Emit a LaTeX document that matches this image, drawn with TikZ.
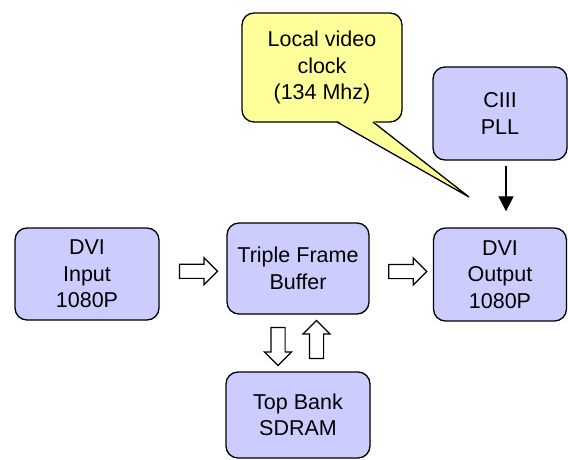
\documentclass[tikz,border=0pt]{standalone}
\usepackage{fontspec}
\setmainfont{Liberation Sans}
\usetikzlibrary{shapes.arrows,arrows.meta,calc}
\definecolor{boxfill}{HTML}{CCCCFF}
\definecolor{notefill}{HTML}{FFFF99}
\tikzset{
  block/.style={draw=black, line width=1.3pt, fill=boxfill, rounded corners=12pt,
    align=center, inner sep=0pt, font=\fontsize{21.5}{26.5}\selectfont},
  note/.style={block, fill=notefill},
  hollow/.style={single arrow, draw=black, line width=1.2pt, fill=white,
    inner xsep=0pt, inner ysep=6.5pt, single arrow head extend=6.5pt,
    minimum height=38pt, single arrow tip angle=90},
}
\begin{document}
\begin{tikzpicture}[x=1pt, y=-1pt]
  \useasboundingbox (0,0) rectangle (568,460);

  % processing blocks
  \node[block, minimum width=144pt, minimum height=92pt] (in)    at (87,274)    {DVI\\Input\\1080P};
  \node[block, minimum width=142pt, minimum height=91pt] (tfb)   at (298,268.5) {Triple Frame\\Buffer};
  \node[block, minimum width=133pt, minimum height=93pt] (out)   at (500,274.5) {DVI\\Output\\1080P};
  \node[block, minimum width=134pt, minimum height=93pt] (pll)   at (500,113.5) {CIII\\PLL};
  \node[block, minimum width=144pt, minimum height=86pt] (sdram) at (298,415)   {Top Bank\\SDRAM};

  % data-flow arrows
  \node[hollow] (a1) at ($(in.east)!0.5!(tfb.west)+(2,0)$) {};
  \node[hollow] (a2) at ($(tfb.east)!0.5!(out.west)+(3,0)$) {};
  \node[hollow, rotate=-90] (a3) at ($(tfb.south)!0.5!(sdram.north)+(-20,0)$) {};
  \node[hollow, rotate=90]  (a4) at ($(tfb.south)!0.5!(sdram.north)+(18.5,0)$) {};

  % clock feed
  \draw[line width=1.2pt, -{Triangle[width=15pt,length=15pt]}, shorten <=5pt, shorten >=16pt]
    ([xshift=6pt]pll.south) -- ([xshift=6pt]out.north);

  % callout
  \node[note, minimum width=160pt, minimum height=109pt] (clk) at (322,67.5)
    {Local video\\clock\\(134 Mhz)};
  \coordinate (tip) at (469,197);
  \coordinate (b1) at (337,122);
  \coordinate (b2) at (373,122);
  \fill[notefill] ($(b1)+(0,-1.5)$) -- (tip) -- ($(b2)+(0,-1.5)$) -- cycle;
  \draw[line width=1.3pt, line join=miter] (b1) -- (tip) -- (b2);
\end{tikzpicture}
\end{document}
